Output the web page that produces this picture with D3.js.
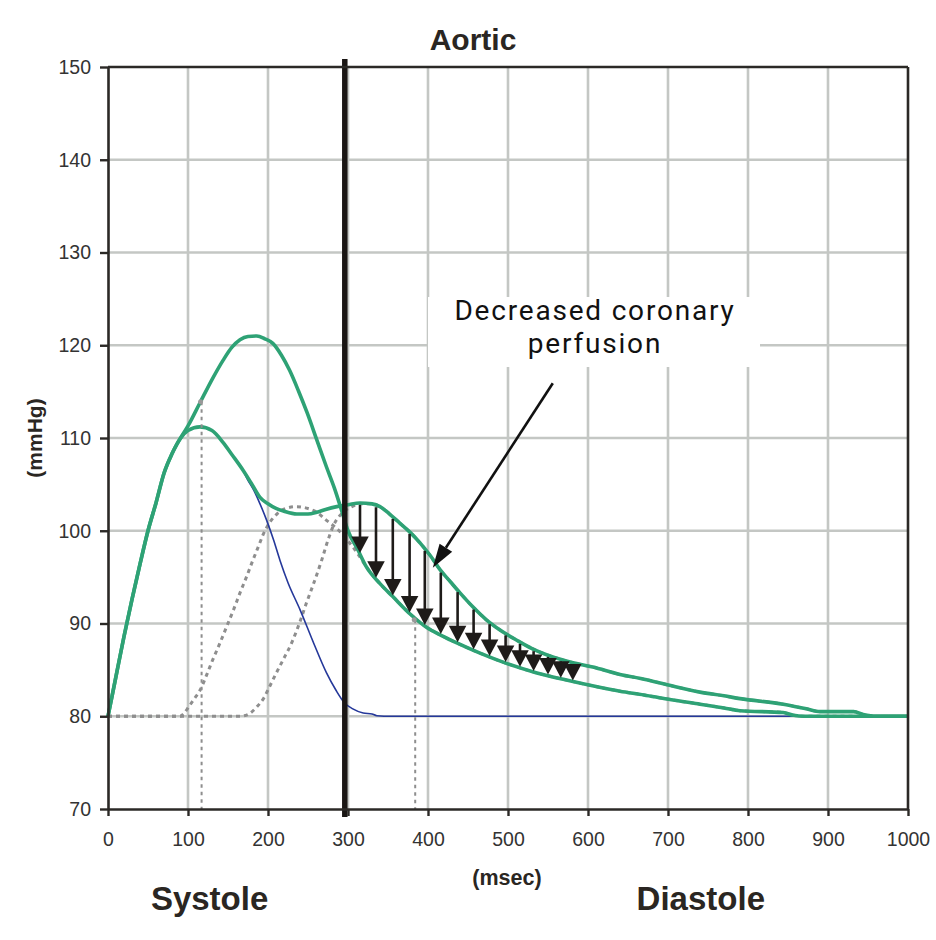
<!DOCTYPE html>
<html><head><meta charset="utf-8">
<script src="https://cdn.jsdelivr.net/npm/d3@7"></script>
<style>body{margin:0;background:#fff}svg{display:block}</style>
</head><body><svg id="c" width="936" height="940"></svg>
<script>
// ---------- data ----------
const xTicks = [0,100,200,300,400,500,600,700,800,900,1000];
const yTicks = [70,80,90,100,110,120,130,140,150];
const titleText = "Aortic";
const yLabel = "(mmHg)";
const xLabel = "(msec)";
const phaseLabels = [{t:"Systole", x:127}, {t:"Diastole", x:741}];
const annotationLines = ["Decreased coronary", "perfusion"];

// normal aortic pressure (green, lower systolic peak)
const normalWave = [[0,80],[10,84.3],[20,88.6],[30,92.6],[40,96.4],[50,100],[60,103],[70,106.2],[80,108.3],[90,109.9],[100,110.8],[115,111.2],[130,110.8],[144,109.5],[155,108.2],[169,106.5],[180,105],[190,103.6],[200,102.9],[210,102.4],[220,102.1],[236,101.8],[250,101.8],[261,102],[272,102.3],[286,102.6],[300,102.8],[315,103],[330,102.9],[340,102.6],[352,101.8],[365,100.8],[378,99.8],[390,98.7],[403,97.3],[415,95.8],[428,94.5],[440,93.3],[456,91.8],[473,90.4],[490,89.3],[511,88.2],[530,87.3],[556,86.4],[580,85.8],[606,85.3],[640,84.5],[670,84],[699,83.4],[740,82.6],[770,82.2],[790,81.9],[844,81.3],[873,80.8],[890,80.5],[932,80.5],[944,80.2],[960,80],[1000,80]];
// augmented aortic pressure (green, high systolic peak)
const augmentedWave = [[0,80],[10,84.3],[20,88.6],[30,92.6],[40,96.4],[50,100],[60,103],[70,106.2],[80,108.3],[90,109.9],[100,111.3],[115,113.8],[130,116.3],[144,118.4],[155,119.8],[165,120.6],[175,120.95],[186,121],[196,120.7],[206,120.2],[217,118.9],[227,117.3],[238,115.1],[249,112.7],[261,109.8],[273,106.9],[283,104.6],[292,102.2],[300,100],[312,98],[323,96.1],[340,94.3],[356,92.9],[378,91],[398,89.6],[417,88.7],[436,87.9],[465,86.8],[498,85.7],[535,84.7],[573,83.9],[610,83.2],[640,82.7],[670,82.3],[699,81.85],[740,81.3],[770,80.9],[790,80.6],[844,80.4],[857,80.1],[870,80],[1000,80]];
// forward wave (blue)
const forwardWave = [[0,80],[10,84.3],[20,88.6],[30,92.6],[40,96.4],[50,100],[60,103],[70,106.2],[80,108.3],[90,109.9],[100,110.8],[115,111.2],[130,110.8],[144,109.5],[155,108.2],[169,106.5],[174,105.6],[182,104.4],[190,102.9],[198,101.2],[207,99],[215,96.8],[225,94.4],[240,91.5],[257,87.9],[273,84.7],[285,82.8],[296,81.4],[306,80.8],[319,80.35],[330,80.25],[336,80.05],[345,80],[1000,80]];
// early reflected wave (grey dotted)
const reflectedEarly = [[0,80],[90,80],[95,80.3],[100,80.9],[108,81.9],[115,82.8],[124,84.6],[131,86.1],[140,87.9],[148,89.6],[157,91.5],[165,93.3],[173,95],[181,96.8],[188,98.3],[194,99.6],[203,101],[211,101.8],[222,102.4],[236,102.6],[250,102.4],[261,102],[272,101.2],[281,100.6],[290,99.9],[300,98.9],[310,97.8],[323,96.1],[340,94.3],[356,92.9],[378,91],[398,89.6],[417,88.7],[436,87.9],[465,86.8],[498,85.7],[535,84.7],[573,83.9],[610,83.2],[640,82.7],[670,82.3],[699,81.85],[740,81.3],[770,80.9],[790,80.6],[844,80.4],[857,80.1],[870,80],[1000,80]];
// late reflected wave (grey dotted)
const reflectedLate = [[0,80],[165,80],[175,80.2],[186,81],[195,82],[202,83.2],[210,84.6],[219,86.1],[230,88],[240,90.2],[248,92.2],[257,94.3],[267,96.8],[275,99],[282,100.6],[294,102],[305,102.6],[315,102.9],[330,102.9],[340,102.6],[352,101.8],[365,100.8],[378,99.8],[390,98.7],[403,97.3],[415,95.8],[428,94.5],[440,93.3],[456,91.8],[473,90.4],[490,89.3],[511,88.2],[530,87.3],[556,86.4],[580,85.8],[606,85.3],[640,84.5],[670,84],[699,83.4],[740,82.6],[770,82.2],[790,81.9],[844,81.3],[873,80.8],[890,80.5],[932,80.5],[944,80.2],[960,80],[1000,80]];
// dotted markers (time, top pressure)
const markerLines = [[117,113.9],[384,90.4]];
const endSystole = 296;
// times of the "decreased perfusion" arrows
const arrowTimes = [315,335,356,377,396,416,437,457,477,497,515,532,550,566,581];
// annotation pointer: from [t,p] to [t,p]
const pointer = [[556,115.9],[406,96]];

// ---------- scales ----------
const svg = d3.select("#c");
const x = d3.scaleLinear().domain([0,1000]).range([108,908]);
const y = d3.scaleLinear().domain([70,150]).range([809,67]);
const FONT = "'Liberation Sans', Arial, Helvetica, sans-serif";
const GREEN = "#2ea275", BLUE = "#25389a", GREY = "#8e8e8e", DARK = "#1e1b19", GRID = "#c4c7c4";

// grid
svg.append("g").selectAll("line").data(xTicks.slice(1,-1)).join("line")
  .attr("x1",d=>x(d)).attr("x2",d=>x(d)).attr("y1",y(70)).attr("y2",y(150))
  .attr("stroke",GRID).attr("stroke-width",2.6);
svg.append("g").selectAll("line").data(yTicks.slice(1,-1)).join("line")
  .attr("x1",x(0)).attr("x2",x(1000)).attr("y1",d=>y(d)).attr("y2",d=>y(d))
  .attr("stroke",GRID).attr("stroke-width",2.6);

// annotation box (covers grid)
svg.append("rect").attr("x",428).attr("y",297).attr("width",332).attr("height",70).attr("fill","#fff");
const ann = svg.append("text").attr("text-anchor","middle")
  .attr("font-family","Roboto, 'Noto Sans', sans-serif").attr("font-size",28)
  .attr("letter-spacing",1.8).attr("fill","#111");
annotationLines.forEach((t,i)=>ann.append("tspan").attr("x",595).attr("y",i===0?320:353).text(t));

const line = d3.line().x(d=>x(d[0])).y(d=>y(d[1])).curve(d3.curveMonotoneX);

// reflected waves
[reflectedEarly, reflectedLate].forEach(w=>{
  svg.append("path").attr("d",line(w)).attr("fill","none").attr("stroke",GREY)
    .attr("stroke-width",3).attr("stroke-dasharray","4,4");
});
// forward wave
svg.append("path").attr("d",line(forwardWave)).attr("fill","none").attr("stroke",BLUE).attr("stroke-width",1.6);
// pressure waves
[augmentedWave, normalWave].forEach(w=>{
  svg.append("path").attr("d",line(w)).attr("fill","none").attr("stroke",GREEN)
    .attr("stroke-width",3.6).attr("stroke-linejoin","round");
});

// marker lines
svg.append("g").selectAll("line").data(markerLines).join("line")
  .attr("x1",d=>x(d[0])).attr("x2",d=>x(d[0])).attr("y1",d=>y(d[1])).attr("y2",y(70))
  .attr("stroke",GREY).attr("stroke-width",2).attr("stroke-dasharray","3.5,4");
svg.append("g").selectAll("circle").data(markerLines).join("circle")
  .attr("cx",d=>x(d[0])-1).attr("cy",d=>y(d[1])).attr("r",2.5).attr("fill","#999");

// interpolation helper on data
function valueAt(w,t){
  const i = d3.bisector(d=>d[0]).left(w,t);
  if(i<=0) return w[0][1];
  const a=w[i-1], b=w[i];
  return a[1]+(b[1]-a[1])*(t-a[0])/(b[0]-a[0]);
}

// perfusion arrows
const ag = svg.append("g").attr("fill",DARK).attr("stroke",DARK);
arrowTimes.forEach(t=>{
  const px = x(t), top = y(valueAt(normalWave,t))+2, tip = y(valueAt(augmentedWave,t))-1;
  const h = 16.5, w = 17.5;
  ag.append("line").attr("x1",px).attr("x2",px).attr("y1",top).attr("y2",tip-h+2).attr("stroke-width",2.6);
  ag.append("path").attr("d",`M${px-w/2},${tip-h}L${px+w/2},${tip-h}L${px},${tip}Z`).attr("stroke","none");
});

// end-systole line
svg.append("line").attr("x1",x(endSystole)).attr("x2",x(endSystole)).attr("y1",59).attr("y2",817)
  .attr("stroke","#1a1614").attr("stroke-width",5.5);

// axes
const yAxis = svg.append("g").attr("transform",`translate(${x(0)},0)`)
  .call(d3.axisLeft(y).tickValues(yTicks).tickFormat(d3.format("d")).tickSize(8).tickSizeOuter(0).tickPadding(9));
const xAxis = svg.append("g").attr("transform",`translate(0,${y(70)})`)
  .call(d3.axisBottom(x).tickValues(xTicks).tickFormat(d3.format("d")).tickSize(7).tickSizeOuter(0).tickPadding(16));
[yAxis,xAxis].forEach(g=>{
  g.select(".domain").attr("stroke","#2b2926").attr("stroke-width",2.6);
  g.selectAll(".tick line").attr("stroke","#2b2926").attr("stroke-width",2.4);
  g.selectAll(".tick text").attr("font-family",FONT).attr("font-size",19.5).attr("fill","#333");
});
// frame top & right
svg.append("line").attr("x1",x(0)).attr("x2",x(1000)).attr("y1",y(150)).attr("y2",y(150)).attr("stroke","#2b2926").attr("stroke-width",2.6);
svg.append("line").attr("x1",x(1000)).attr("x2",x(1000)).attr("y1",y(150)).attr("y2",y(70)).attr("stroke","#2b2926").attr("stroke-width",2.6);

// pointer arrow
{
  const x1=x(pointer[0][0]), y1=y(pointer[0][1]), x2=x(pointer[1][0]), y2=y(pointer[1][1]);
  const ang=Math.atan2(y2-y1,x2-x1), L=24, W=7.5;
  const bx=x2-L*Math.cos(ang), by=y2-L*Math.sin(ang);
  svg.append("line").attr("x1",x1).attr("y1",y1).attr("x2",bx).attr("y2",by).attr("stroke","#111").attr("stroke-width",2.6);
  const nx=-Math.sin(ang), ny=Math.cos(ang);
  svg.append("path").attr("d",`M${x2},${y2}L${bx+nx*W},${by+ny*W}L${bx-nx*W},${by-ny*W}Z`).attr("fill","#111");
}

// texts
svg.append("text").attr("x",473).attr("y",50).attr("text-anchor","middle").attr("font-family",FONT)
  .attr("font-weight","bold").attr("font-size",30).attr("fill","#2a2622").text(titleText);
svg.append("text").attr("transform","translate(42,438) rotate(-90)").attr("text-anchor","middle").attr("font-family",FONT)
  .attr("font-weight","bold").attr("font-size",21).attr("fill","#2a2622").text(yLabel);
svg.append("text").attr("x",507).attr("y",885).attr("text-anchor","middle").attr("font-family",FONT)
  .attr("font-weight","bold").attr("font-size",21.5).attr("fill","#2a2622").text(xLabel);
svg.selectAll(".phase").data(phaseLabels).join("text").attr("class","phase")
  .attr("x",d=>x(d.x)).attr("y",910).attr("text-anchor","middle").attr("font-family",FONT)
  .attr("font-weight","bold").attr("font-size",33).attr("fill","#2a2622").text(d=>d.t);
</script></body></html>
